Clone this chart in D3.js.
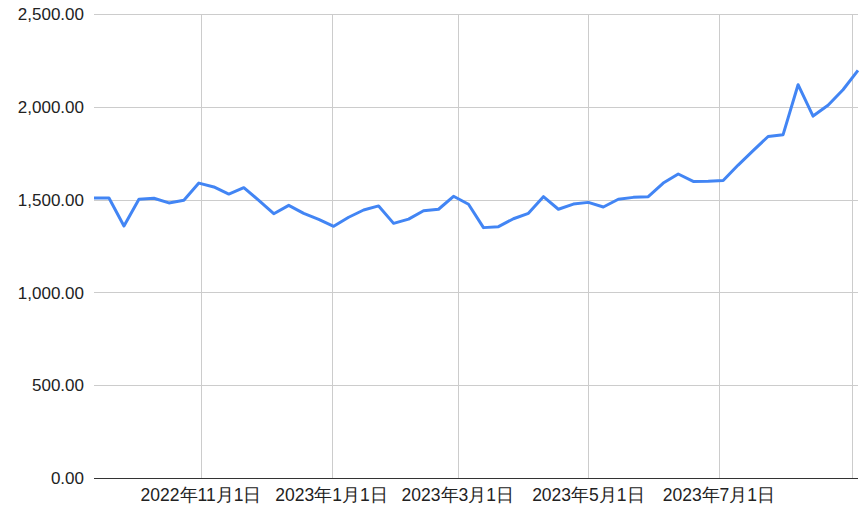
<!DOCTYPE html>
<html>
<head>
<meta charset="utf-8">
<script src="https://cdn.jsdelivr.net/npm/d3@7"></script>
<style>
  body { margin: 0; background: #fff; }
  svg { display: block; }
</style>
</head>
<body>
<svg id="chart" width="864" height="519"></svg>
<script>
// weekly values, first week starts 2022-09-12
var startDate = "2022-09-12";
var values = [1508, 1509, 1358, 1502, 1507, 1482, 1496, 1589, 1568, 1530,
              1564, 1496, 1424, 1469, 1426, 1394, 1356, 1405, 1444, 1466,
              1372, 1395, 1440, 1448, 1518, 1475, 1349, 1354, 1397, 1426,
              1516, 1448, 1476, 1485, 1460, 1502, 1512, 1516, 1589, 1638,
              1598, 1599, 1603, 1686, 1764, 1840, 1850, 2119, 1950, 2008,
              2092, 2196];
var yTicks = [0, 500, 1000, 1500, 2000, 2500];
var xTickDates = ["2022-11-01", "2023-01-01", "2023-03-01", "2023-05-01", "2023-07-01", "2023-09-01"];
var xTickLabels = ["2022年11月1日", "2023年1月1日", "2023年3月1日", "2023年5月1日", "2023年7月1日", ""];

var parse = d3.utcParse("%Y-%m-%d");
var t0 = parse(startDate);
var data = values.map(function(v, i){
  return {date: d3.utcDay.offset(t0, i*7), value: v};
});

var svg = d3.select("#chart");
var plotLeft = 94, plotRight = 858, plotTop = 14, plotBottom = 478;

// scales
var x = d3.scaleUtc()
  .domain(d3.extent(data, d => d.date))
  .range([plotLeft, plotRight]);
var y = d3.scaleLinear()
  .domain([0, 2500])
  .range([plotBottom, plotTop]);

var font = "Arial, 'Liberation Sans', sans-serif";

// horizontal grid lines
svg.selectAll(".hgrid").data(yTicks)
  .enter()
  .append("line")
    .attr("class", "hgrid")
    .attr("x1", plotLeft)
    .attr("x2", plotRight)
    .attr("y1", d => Math.round(y(d)) + 0.5)
    .attr("y2", d => Math.round(y(d)) + 0.5)
    .style("stroke", "#cccccc")
    .style("stroke-width", 1);

// vertical grid lines
svg.selectAll(".vgrid").data(xTickDates)
  .enter()
  .append("line")
    .attr("class", "vgrid")
    .attr("x1", d => Math.round(x(parse(d))) + 0.5)
    .attr("x2", d => Math.round(x(parse(d))) + 0.5)
    .attr("y1", plotTop)
    .attr("y2", plotBottom)
    .style("stroke", "#cccccc")
    .style("stroke-width", 1);

// y labels
svg.selectAll(".ylab").data(yTicks)
  .enter()
  .append("text")
    .attr("class", "ylab")
    .attr("x", 84)
    .attr("y", d => y(d))
    .attr("dy", "0.36em")
    .text(d3.format(",.2f"))
    .attr("fill", "#222222")
    .style("text-anchor", "end")
    .style("font-family", font)
    .style("font-size", "17px");

// x labels
svg.selectAll(".xlab").data(xTickDates)
  .enter()
  .append("text")
    .attr("class", "xlab")
    .attr("x", d => x(parse(d)))
    .attr("y", 501)
    .text((d, i) => xTickLabels[i])
    .attr("fill", "#222222")
    .style("text-anchor", "middle")
    .style("font-family", font)
    .style("font-size", "17.5px");

// the series line
var line = d3.line()
  .x(d => x(d.date))
  .y(d => y(d.value));

svg.append("path")
  .datum(data)
  .attr("d", line)
  .style("fill", "none")
  .style("stroke", "#4285f4")
  .style("stroke-width", 3)
  .style("stroke-linejoin", "round");

// base line
svg.append("line")
  .attr("x1", plotLeft)
  .attr("x2", plotRight)
  .attr("y1", Math.round(y(0)) + 0.5)
  .attr("y2", Math.round(y(0)) + 0.5)
  .style("stroke", "#333333")
  .style("stroke-width", 1);
</script>
</body>
</html>
